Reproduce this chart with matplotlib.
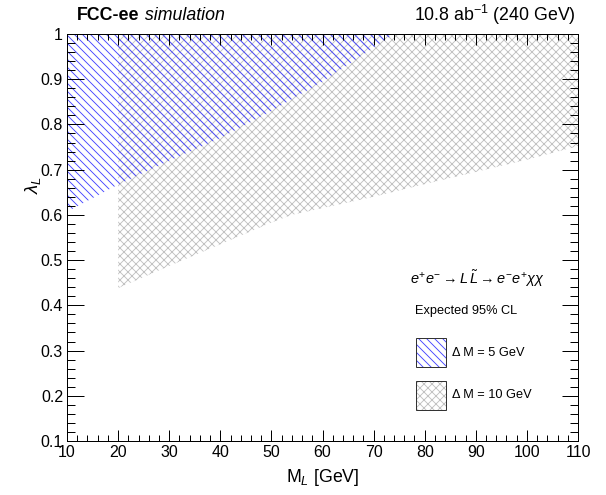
import matplotlib
matplotlib.use('Agg')
import matplotlib.pyplot as plt
from matplotlib.patches import Rectangle
from matplotlib.ticker import MultipleLocator

# Expected 95% CL exclusion contours, lambda_L vs M_L
mass_dm5 = [10, 20, 30, 40, 50, 60, 70, 74]
lambda_dm5 = [0.607, 0.667, 0.72, 0.77, 0.83, 0.895, 0.97, 1.0]

mass_dm10 = [20, 30, 40, 50, 54, 60, 70, 80, 90, 100, 110]
lambda_dm10 = [0.438, 0.487, 0.535, 0.583, 0.60, 0.615, 0.64, 0.668, 0.695, 0.722, 0.752]

x_ticks = [10, 20, 30, 40, 50, 60, 70, 80, 90, 100, 110]
y_ticks = [0.1, 0.2, 0.3, 0.4, 0.5, 0.6, 0.7, 0.8, 0.9, 1.0]
y_tick_labels = ['0.1', '0.2', '0.3', '0.4', '0.5', '0.6', '0.7', '0.8', '0.9', '1']
legend_labels = ['Δ M = 5 GeV', 'Δ M = 10 GeV']

BLUE = '#4646ff'
GREY = '#c2c2c2'
HATCH_5 = '\\\\\\'
HATCH_10 = 'xxx'

plt.rcParams['font.family'] = ['Liberation Sans', 'DejaVu Sans']
plt.rcParams['mathtext.fontset'] = 'custom'
plt.rcParams['mathtext.rm'] = 'Liberation Sans'
plt.rcParams['mathtext.it'] = 'Liberation Sans:italic'
plt.rcParams['mathtext.bf'] = 'Liberation Sans:bold'
plt.rcParams['hatch.linewidth'] = 0.9

DPI = 72
W, H = 606, 495
fig = plt.figure(figsize=(W / DPI, H / DPI), dpi=DPI)
ax = fig.add_axes([67 / W, 1 - 441 / H, 511 / W, 407 / H])

# hatched regions: area above each contour up to lambda = 1
top = y_ticks[-1]
ax.fill(mass_dm10 + mass_dm10[::-1], lambda_dm10 + [top] * len(mass_dm10),
        facecolor='none', edgecolor=GREY, hatch=HATCH_10, linewidth=0)
ax.fill(mass_dm5 + mass_dm5[::-1], lambda_dm5 + [top] * len(mass_dm5),
        facecolor='none', edgecolor=BLUE, hatch=HATCH_5, linewidth=0)

ax.set_xlim(x_ticks[0], x_ticks[-1])
ax.set_ylim(y_ticks[0], y_ticks[-1])
ax.set_xticks(x_ticks)
ax.set_yticks(y_ticks)
ax.set_yticklabels(y_tick_labels)
ax.xaxis.set_minor_locator(MultipleLocator(2))
ax.yaxis.set_minor_locator(MultipleLocator(0.02))

ax.tick_params(which='both', direction='in', top=True, right=True,
               labelsize=16, width=1, color='black')
ax.tick_params(axis='x', which='major', length=11, pad=4)
ax.tick_params(axis='x', which='minor', length=6)
ax.tick_params(axis='y', which='major', length=16.5, pad=4)
ax.tick_params(axis='y', which='minor', length=8.3)
for s in ax.spines.values():
    s.set_linewidth(1)

# axis titles
fig.text(323 / W, 1 - 478 / H, r'M$_{L}$ [GeV]', ha='center', va='center', fontsize=17.8)
fig.text(33 / W, 1 - 185 / H, r'$\lambda_{L}$', ha='center', va='center',
         rotation=90, fontsize=18.5)

# header
t1 = fig.text(77 / W, 1 - 15 / H, 'FCC-ee', ha='left', va='center',
              fontsize=17.8, fontweight='bold')
ax.annotate(' simulation', xy=(1, 0), xycoords=t1, ha='left', va='bottom',
            fontsize=17.8, fontstyle='italic', annotation_clip=False)
fig.text(576 / W, 1 - 15 / H, r'10.8 ab$^{\mathregular{-1}}$ (240 GeV)',
         ha='right', va='center', fontsize=17.8)

# legend block
ax.text(0.671, 0.40, r'$e^{+}e^{-}\rightarrow L\,\tilde{L}\rightarrow e^{-}e^{+}\chi\chi$',
        transform=ax.transAxes, ha='left', va='center', fontsize=14.5)
ax.text(0.681, 0.319, 'Expected 95% CL', transform=ax.transAxes,
        ha='left', va='center', fontsize=12.8)

boxes = [(0.182, BLUE, HATCH_5), (0.0762, GREY, HATCH_10)]
label_y = [0.216, 0.113]
for (y0, col, hatch), lab, ly in zip(boxes, legend_labels, label_y):
    ax.add_patch(Rectangle((0.683, y0), 0.0587, 0.072, transform=ax.transAxes,
                           facecolor='none', edgecolor=col, hatch=hatch, linewidth=0))
    ax.add_patch(Rectangle((0.683, y0), 0.0587, 0.072, transform=ax.transAxes,
                           facecolor='none', edgecolor='#333333', linewidth=1))
    ax.text(0.753, ly, lab, transform=ax.transAxes, ha='left', va='center', fontsize=12.8)

fig.savefig('out.png', dpi=DPI)
